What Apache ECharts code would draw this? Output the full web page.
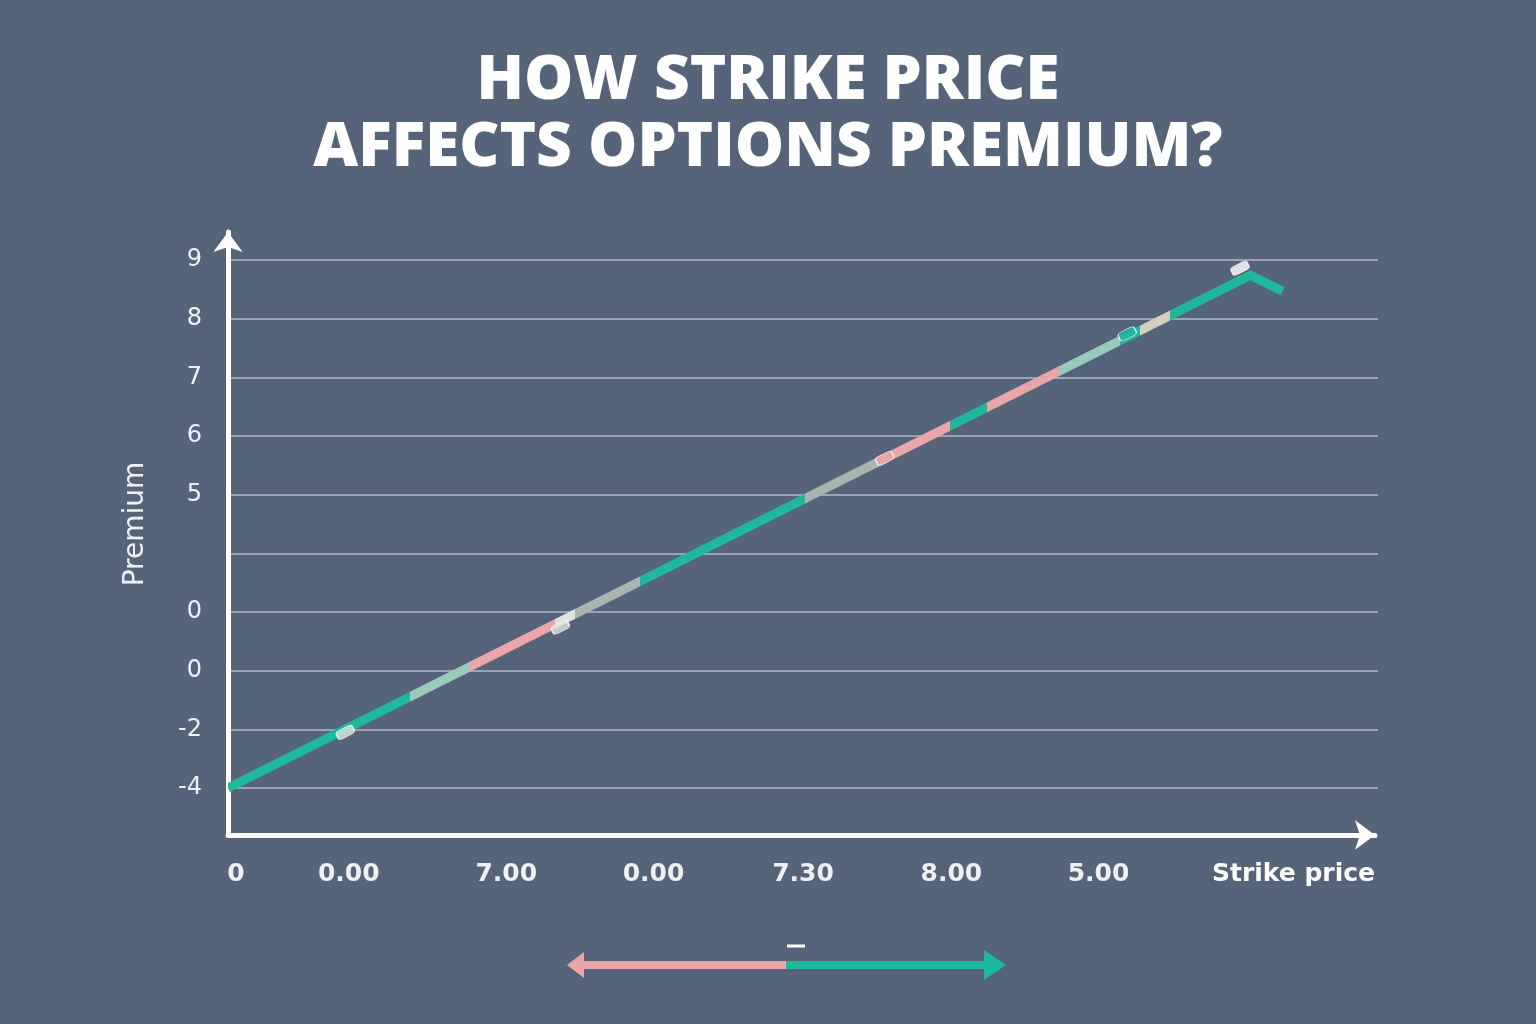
<!DOCTYPE html>
<html>
<head>
<meta charset="utf-8">
<script src="https://cdn.jsdelivr.net/npm/echarts@6/dist/echarts.min.js"></script>
<style>
html,body{margin:0;padding:0;background:#566479;}
#c{width:1536px;height:1024px;}
</style>
</head>
<body>
<div id="c"></div>
<script>
// ---- data ----
const yTickLabels = ['-4', '-2', '0', '0', '', '5', '6', '7', '8', '9'];
const xTickValues = [0.07, 1.05, 2.42, 3.70, 5.0, 6.29, 7.57];
const xTickLabels = ['0', '0.00', '7.00', '0.00', '7.30', '8.00', '5.00'];
const lineX = [0, 8.89, 9.17];
const lineY = [0, 8.74, 8.47];
const segmentStarts = [0, 1.58, 2.1, 2.84, 3.02, 3.58, 5.02, 5.67, 6.28, 6.6, 7.23, 7.76, 7.93, 8.19];
const segmentKinds = ['up', 'fade', 'down', 'light', 'grey', 'up', 'grey', 'down', 'up', 'down', 'fade', 'up', 'cream', 'up'];
const markerX = [1.02, 2.89, 5.71, 7.82, 8.80];
const markerY = [0.95, 2.74, 5.62, 7.74, 8.86];
const markerKinds = ['light', 'light', 'down', 'up', 'white'];

// ---- styles ----
const palette = {
  up: '#20b89b', down: '#e9a5a7', fade: '#9cc9bd', grey: '#a9b4b3',
  light: '#dfe3df', cream: '#d4cfbf', white: '#ffffff'
};

const pieces = segmentStarts.map((s, i) => ({
  gte: s,
  lt: i < segmentStarts.length - 1 ? segmentStarts[i + 1] : 100,
  color: palette[segmentKinds[i]]
}));

const chart = echarts.init(document.getElementById('c'), null, {renderer: 'canvas'});
chart.setOption({
  backgroundColor: '#566479',
  animation: false,
  title: {
    text: 'HOW STRIKE PRICE\nAFFECTS OPTIONS PREMIUM?',
    left: 'center',
    top: 43,
    textStyle: {
      color: '#ffffff', fontFamily: 'Open Sans', fontWeight: 800,
      fontSize: 62, lineHeight: 67
    }
  },
  grid: [
    {left: 228, right: 158, top: 260, bottom: 236},
    {left: 228, right: 161, top: 232, bottom: 189}
  ],
  xAxis: [
    {
      gridIndex: 0, type: 'value', min: 0, max: 10,
      axisLine: {show: false}, axisTick: {show: false}, splitLine: {show: false},
      axisLabel: {
        customValues: xTickValues,
        margin: 74,
        color: '#eef1f4', fontFamily: 'DejaVu Sans', fontWeight: 'bold', fontSize: 25,
        formatter: v => { const i = xTickValues.indexOf(v); return i >= 0 ? xTickLabels[i] : ''; }
      },
      name: 'Strike price',
      nameLocation: 'end',
      nameGap: -3,
      nameTextStyle: {
        color: '#ffffff', fontFamily: 'DejaVu Sans', fontWeight: 'bold', fontSize: 25,
        align: 'right', verticalAlign: 'top', padding: [74, 0, 0, 0]
      }
    },
    {
      gridIndex: 1, type: 'value', min: 0, max: 1,
      axisLine: {show: true, symbol: ['none', 'arrow'], symbolSize: [22, 20],
        lineStyle: {color: '#ffffff', width: 5}},
      axisTick: {show: false}, axisLabel: {show: false}, splitLine: {show: false}
    }
  ],
  yAxis: [
    {
      gridIndex: 0, type: 'value', min: 0, max: 9, interval: 1,
      axisLine: {show: false}, axisTick: {show: false},
      splitLine: {show: true, lineStyle: {color: '#b3bac4', width: 1.6}},
      axisLabel: {
        margin: 26, color: '#eef1f4', fontFamily: 'DejaVu Sans', fontSize: 24,
        formatter: v => yTickLabels[v] !== undefined ? yTickLabels[v] : ''
      },
      name: 'Premium',
      nameLocation: 'middle',
      nameRotate: 90,
      nameGap: 78,
      nameTextStyle: {color: '#eef1f4', fontFamily: 'DejaVu Sans', fontSize: 28}
    },
    {
      gridIndex: 1, type: 'value', min: 0, max: 1,
      axisLine: {show: true, symbol: ['none', 'arrow'], symbolSize: [22, 20],
        lineStyle: {color: '#ffffff', width: 5}},
      axisTick: {show: false}, axisLabel: {show: false}, splitLine: {show: false}
    }
  ],
  visualMap: {
    type: 'piecewise', show: false, dimension: 0, seriesIndex: 0, pieces: pieces
  },
  series: [
    {
      type: 'line', xAxisIndex: 0, yAxisIndex: 0,
      data: lineX.map((x, i) => [x, lineY[i]]),
      showSymbol: false, symbol: 'none',
      lineStyle: {width: 9, cap: 'butt', join: 'miter'}
    },
    {
      type: 'scatter', xAxisIndex: 0, yAxisIndex: 0,
      data: markerX.map((x, i) => ({
        value: [x, markerY[i]],
        itemStyle: {color: palette[markerKinds[i]], borderColor: '#ffffff', borderWidth: 1}
      })),
      symbol: 'roundRect', symbolSize: [18, 9], symbolRotate: 27,
      z: 5
    }
  ],
  graphic: [
    {type: 'line', shape: {x1: 580, y1: 965, x2: 786, y2: 965},
      style: {stroke: '#e9a5a7', lineWidth: 8}},
    {type: 'polygon', shape: {points: [[567, 965], [584, 952], [584, 978]]},
      style: {fill: '#e9a5a7'}},
    {type: 'line', shape: {x1: 786, y1: 965, x2: 990, y2: 965},
      style: {stroke: '#20b89b', lineWidth: 8}},
    {type: 'polygon', shape: {points: [[1006, 965], [984, 950], [984, 980]]},
      style: {fill: '#20b89b'}},
    {type: 'line', shape: {x1: 787, y1: 946, x2: 805, y2: 946},
      style: {stroke: '#ffffff', lineWidth: 3}}
  ]
});
</script>
</body>
</html>
